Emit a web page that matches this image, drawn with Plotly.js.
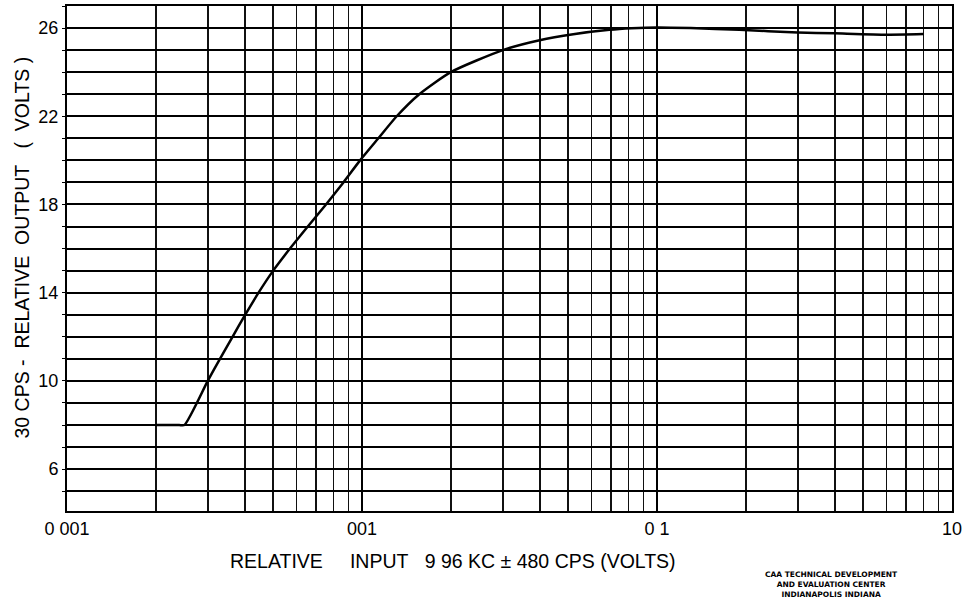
<!DOCTYPE html>
<html>
<head>
<meta charset="utf-8">
<script src="https://cdn.plot.ly/plotly-3.0.1.min.js"></script>
<style>html,body{margin:0;padding:0;background:#fff;}#chart{width:966px;height:603px;}</style>
</head>
<body>
<div id="chart"></div>
<script>
// Data
const inputVolts = [0.002, 0.0024, 0.0025, 0.003, 0.0033, 0.00364, 0.00402, 0.00446, 0.005, 0.0057, 0.00655, 0.00755, 0.00865, 0.00985, 0.01136, 0.01311, 0.01564, 0.02, 0.03, 0.04, 0.052, 0.069, 0.082, 0.1, 0.13, 0.19, 0.3, 0.4, 0.6, 0.8];
const outputVolts = [8.0, 8.0, 8.0, 10.0, 11.0, 12.0, 13.0, 14.0, 15.0, 16.0, 17.0, 18.0, 19.0, 20.0, 21.0, 22.0, 23.0, 24.0, 25.0, 25.45, 25.72, 25.92, 25.99, 26.03, 26.0, 25.92, 25.8, 25.76, 25.7, 25.73];

const xTickVals = [0.001, 0.01, 0.1, 1];
const xTickText = ["0 001", "001", "0 1", "10"];
const yTickVals = [6, 10, 14, 18, 22, 26];
const yTickText = ["6", "10", "14", "18", "22", "26"];

const NB = "\u00a0";
const xTitle = "RELATIVE" + NB.repeat(5) + "INPUT" + NB.repeat(3) + "9" + NB + "96" + NB + "KC" + NB + "±" + NB + "480" + NB + "CPS" + NB + "(VOLTS)";
const yTitle = "30" + NB + "CPS" + NB + "-" + NB.repeat(2) + "RELATIVE" + NB.repeat(2) + "OUTPUT" + NB.repeat(3) + "(" + NB.repeat(2) + "VOLTS" + NB + ")";
const creditText = "CAA TECHNICAL DEVELOPMENT<br>AND EVALUATION CENTER<br>INDIANAPOLIS INDIANA";

const fontFam = "Liberation Sans, Arial, sans-serif";

const trace = {
  x: inputVolts,
  y: outputVolts,
  type: "scatter",
  mode: "lines",
  line: {color: "#000", width: 2.5, shape: "spline", smoothing: 0.6},
  hoverinfo: "skip"
};

const layout = {
  width: 966,
  height: 603,
  margin: {l: 67, r: 14, t: 6, b: 92},
  paper_bgcolor: "#fff",
  plot_bgcolor: "#fff",
  showlegend: false,
  font: {family: fontFam, color: "#000", size: 18},
  xaxis: {
    type: "log",
    range: [-3, 0],
    tickvals: xTickVals,
    ticktext: xTickText,
    showgrid: true,
    gridcolor: "#000",
    gridwidth: 2,
    ticks: "",
    tickfont: {size: 18},
    showline: true,
    linecolor: "#000",
    linewidth: 2,
    mirror: true,
    zeroline: false,
    minor: {dtick: "D1", showgrid: true, gridcolor: "#111", gridwidth: 1.8, ticks: ""}
  },
  yaxis: {
    range: [4.1, 27],
    tickvals: yTickVals,
    ticktext: yTickText,
    showgrid: true,
    gridcolor: "#000",
    gridwidth: 2,
    ticks: "outside",
    ticklen: 3,
    tickcolor: "#000",
    tickfont: {size: 18},
    showline: true,
    linecolor: "#000",
    linewidth: 2,
    mirror: true,
    zeroline: false,
    minor: {dtick: 1, showgrid: true, gridcolor: "#000", gridwidth: 2, ticks: "outside", ticklen: 3, tickcolor: "#000"}
  },
  annotations: [
    {
      text: xTitle,
      xref: "paper", yref: "paper",
      x: 0.4367, y: -0.099,
      xanchor: "center", yanchor: "middle",
      showarrow: false,
      font: {size: 19.5, color: "#000"}
    },
    {
      text: yTitle,
      xref: "paper", yref: "paper",
      x: -0.0508, y: 0.5218,
      xanchor: "center", yanchor: "middle",
      textangle: -90,
      showarrow: false,
      font: {size: 19.5, color: "#000"}
    },
    {
      text: creditText,
      xref: "paper", yref: "paper",
      x: 0.8644, y: -0.1446,
      xanchor: "center", yanchor: "middle",
      showarrow: false,
      align: "center",
      font: {family: "DejaVu Sans, sans-serif", size: 7.5, color: "#000", weight: "bold"}
    }
  ]
};

Plotly.newPlot("chart", [trace], layout, {staticPlot: true, displayModeBar: false});
</script>
</body>
</html>
